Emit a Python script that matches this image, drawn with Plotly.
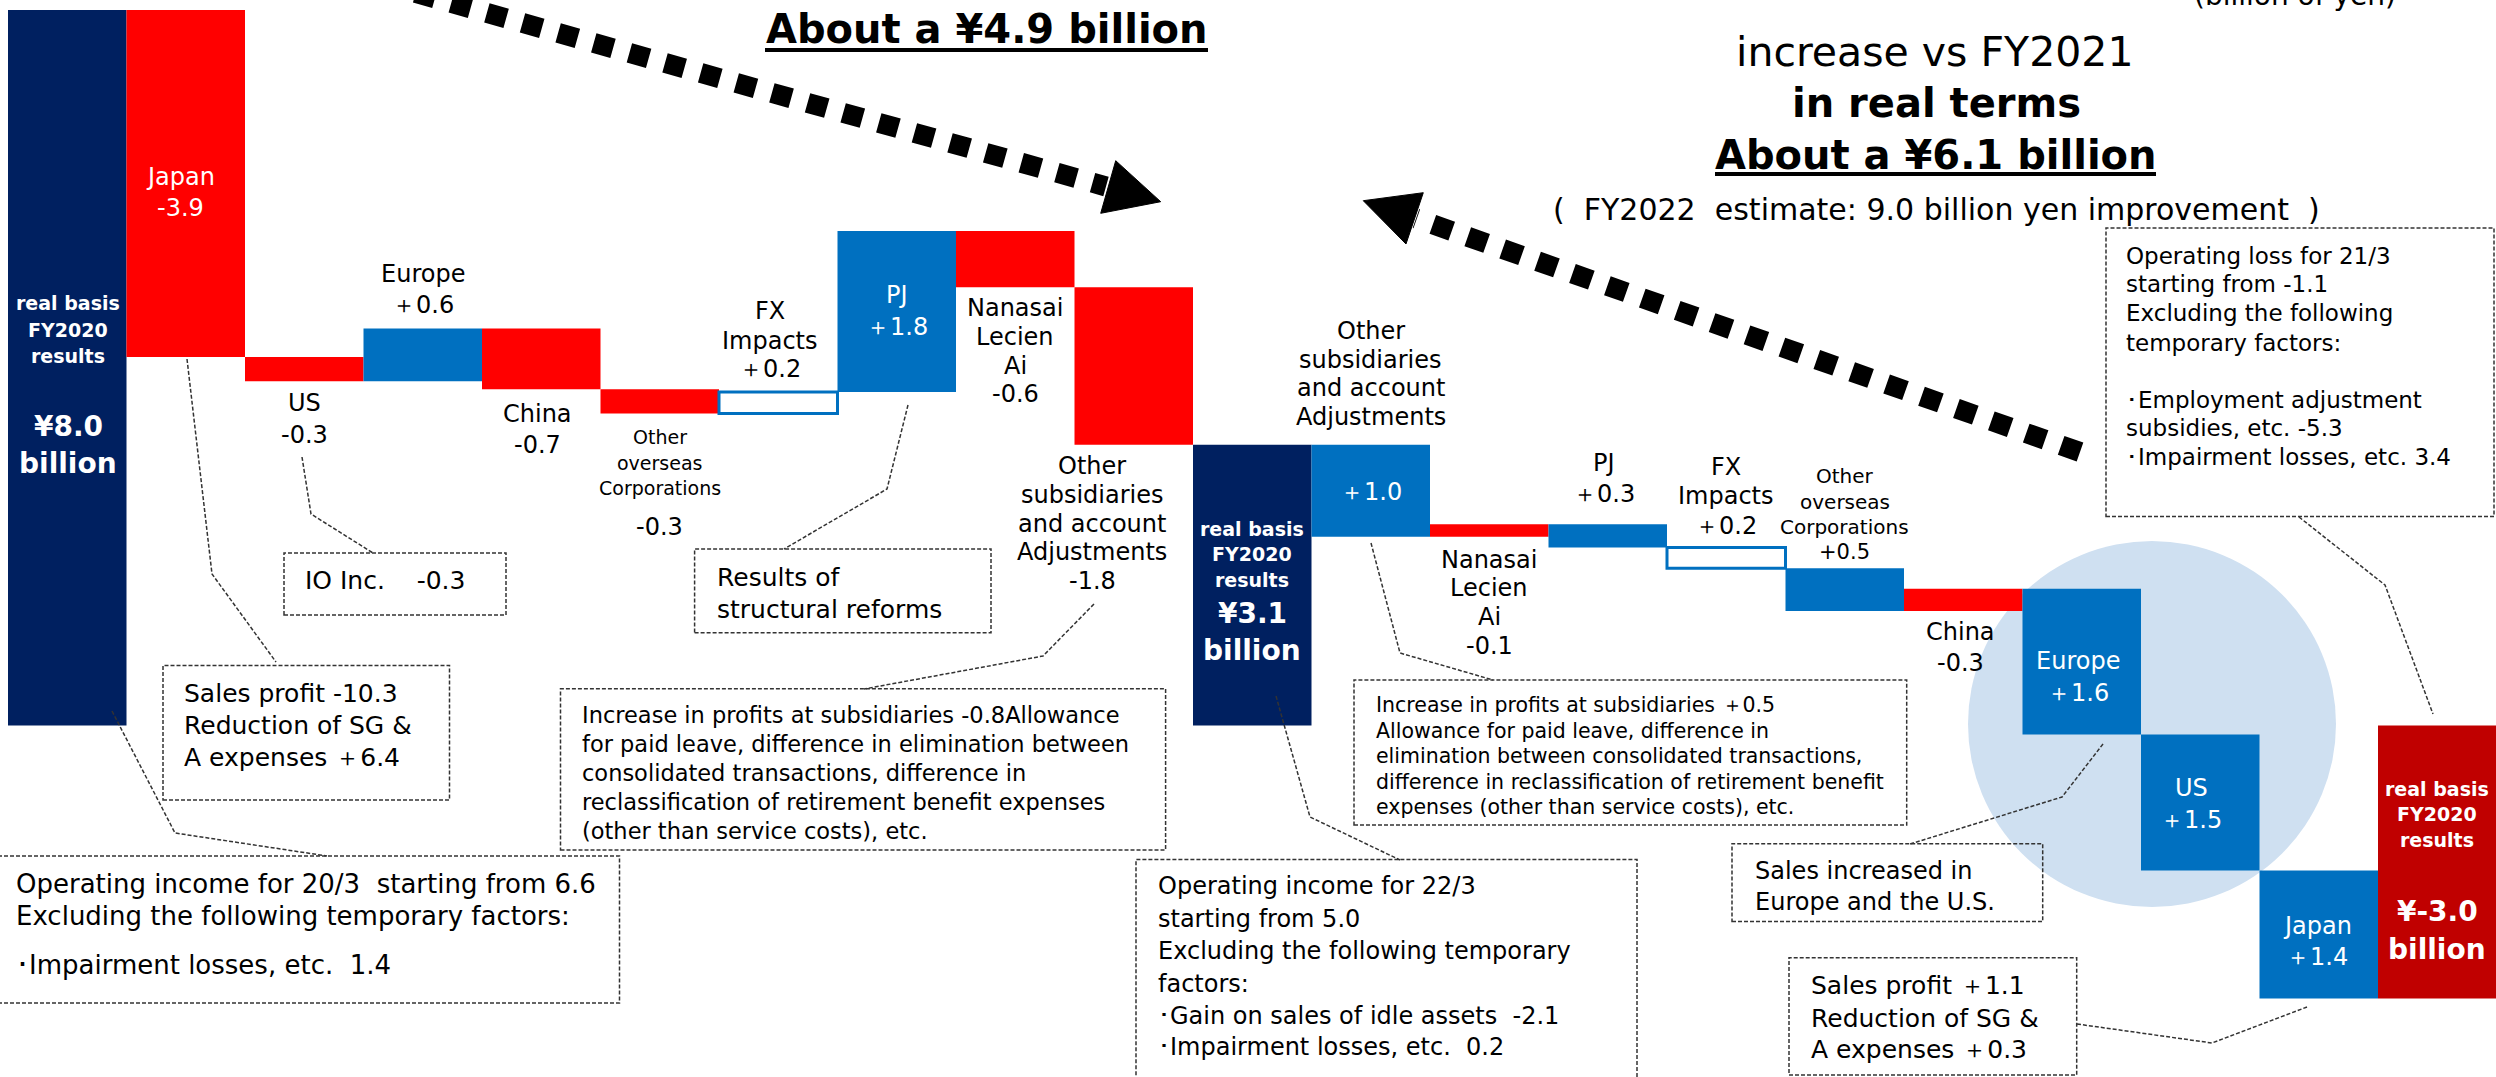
import plotly.graph_objects as go

W, H = 2496, 1077

# ---------------- data ----------------
start_label = "real basis<br>FY2020<br>results"
start_value = 8.0
left_categories = ["Japan", "US", "Europe", "China", "Other<br>overseas<br>Corporations",
                   "FX<br>Impacts", "PJ", "Nanasai<br>Lecien<br>Ai",
                   "Other<br>subsidiaries<br>and account<br>Adjustments"]
left_changes = [-3.88, -0.27, 0.59, -0.68, -0.27, 0.24, 1.80, -0.63, -1.76]
left_change_labels = ["-3.9", "-0.3", "＋0.6", "-0.7", "-0.3", "＋0.2", "＋1.8", "-0.6", "-1.8"]

right_categories = ["Other<br>subsidiaries<br>and account<br>Adjustments", "Nanasai<br>Lecien<br>Ai",
                    "PJ", "FX<br>Impacts", "Other<br>overseas<br>Corporations", "China",
                    "Europe", "US", "Japan"]
right_improvements = [1.03, -0.14, 0.26, 0.23, 0.48, -0.25, 1.63, 1.52, 1.43]
right_change_labels = ["＋1.0", "-0.1", "＋0.3", "＋0.2", "+0.5", "-0.3", "＋1.6", "＋1.5", "＋1.4"]

total_labels = ["¥8.0<br>billion", "¥3.1<br>billion", "¥-3.0<br>billion"]

# ---------------- colours ----------------
NAVY = "#002060"
BLUE = "#0070C0"
RED = "#FF0000"
DARKRED = "#C00000"
CIRCLE = "#CFE0F1"
BOXLINE = "#333333"
FONT = "DejaVu Sans"

# ---------------- build waterfall geometry ----------------
xs, bases, heights, fills, lcols, lwids = [], [], [], [], [], []


def add_bar(base, h, fill, lcol=None, lw=0):
    xs.append(len(xs))
    bases.append(base)
    heights.append(h)
    fills.append(fill)
    lcols.append(lcol or fill)
    lwids.append(lw)


add_bar(0, start_value, NAVY)
level = start_value
for cat, c in zip(left_categories, left_changes):
    if cat.startswith("FX"):
        add_bar(level, c, "#FFFFFF", BLUE, 3)
    else:
        add_bar(level, c, BLUE if c > 0 else RED)
    level += c
mid_value = level
add_bar(0, mid_value, NAVY)
for cat, c in zip(right_categories, right_improvements):
    if cat.startswith("FX"):
        add_bar(level, -c, "#FFFFFF", BLUE, 3)
    else:
        add_bar(level, -c, BLUE if c > 0 else RED)
    level -= c
end_value = level
add_bar(0, end_value, DARKRED)

fig = go.Figure()
fig.add_trace(go.Bar(
    x=xs, y=heights, base=bases, width=1,
    marker=dict(color=fills, line=dict(color=lcols, width=lwids)),
    hoverinfo="skip", showlegend=False,
))


# pixel helpers (paper coords)
def px(x):
    return x / W


def py(y):
    return 1 - y / H


# axis ranges so that bar i spans pixels 8+118.5*i .. 8+118.5*(i+1), value 0 at y=725.6
BW = 118.5
X0 = 8.0
ZERO_Y = 725.6
SCALE = 89.45
fig.update_xaxes(range=[-X0 / BW - 0.5, (W - X0) / BW - 0.5], visible=False)
fig.update_yaxes(range=[(ZERO_Y - H) / SCALE, ZERO_Y / SCALE], visible=False)

annotations = []


def txt(x, y, text, size, color="black", bold=False, xanchor="center", xref="paper"):
    if bold:
        text = "<b>" + text + "</b>"
    annotations.append(dict(
        x=x if xref == "x" else px(x), y=py(y), xref=xref, yref="paper",
        text=text, showarrow=False, xanchor=xanchor, yanchor="middle",
        font=dict(family=FONT, size=size, color=color),
    ))


# ---------------- bar labels ----------------
all_categories = [start_label] + left_categories + ["real basis<br>FY2020<br>results"] + right_categories
all_values = [total_labels[0]] + left_change_labels + [total_labels[1]] + right_change_labels

label_y = {
    0: [303, 330, 356, 426, 463],
    1: [177, 208], 2: [403, 435], 3: [274, 305], 4: [414, 445],
    5: [437, 463, 488, 527], 6: [311, 341, 369], 7: [295, 327],
    8: [308, 337, 366, 394], 9: [466, 495, 524, 552, 581],
    10: [529, 554, 580, 613, 650],
    11: [331, 360, 388, 417, 492], 12: [560, 588, 617, 646], 13: [463, 494],
    14: [467, 496, 526], 15: [476, 502, 527, 552], 16: [632, 663],
    17: [661, 693], 18: [788, 820], 19: [926, 957],
    20: [789, 814, 840, 911, 949],
}
# label centres (pixels) where they are not centred on their bar
label_x_px = {0: 68, 1: 180, 4: 537, 6: 770, 9: 1092, 13: 1604, 16: 1960,
              17: 2078, 18: 2191, 19: 2317}
white_bars = {1, 7, 17, 18, 19}
total_bars = {0: 0, 10: 1, 20: 2}


def lx(i):
    if i in label_x_px:
        return (label_x_px[i] - X0) / BW - 0.5
    return i


for i in range(21):
    ys = label_y[i]
    xi = lx(i)
    if i in total_bars:
        cat_lines = "real basis<br>FY2020<br>results".split("<br>")
        val_lines = total_labels[total_bars[i]].split("<br>")
        for ln, y in zip(cat_lines, ys[:3]):
            txt(xi, y, ln, 19, "white", True, xref="x")
        for ln, y in zip(val_lines, ys[3:]):
            txt(xi, y, ln, 28, "white", True, xref="x")
        continue
    cat_lines = all_categories[i].split("<br>")
    val = all_values[i]
    col = "white" if i in white_bars else "black"
    csize = 24
    vsize = 24
    if i == 5:
        csize, vsize = 19, 24
    if i == 15:
        csize, vsize = 20, 21
    for ln, y in zip(cat_lines, ys[:len(cat_lines)]):
        txt(xi, y, ln, csize, col, xref="x")
    vcol = "white" if (i in white_bars or i == 11) else "black"
    txt(xi, ys[len(cat_lines)], val, vsize, vcol, xref="x")

# ---------------- titles ----------------
txt(987, 29, "About a ¥4.9 billion", 40, bold=True)
txt(1934, 52, "increase vs FY2021", 41)
txt(1936, 103, "in real terms", 40, bold=True)
txt(1936, 155, "About a ¥6.1 billion", 40, bold=True)
txt(1936, 210, "(  FY2022  estimate: 9.0 billion yen improvement  )", 30)
txt(2295, -4, "(billion of yen)", 28)

# ---------------- callout boxes ----------------
BUL = "･"
boxes = [
    ((284, 553, 506, 615), 303, [(580, "IO Inc.    -0.3")], 25),
    ((163, 665.5, 449.5, 800), 182, [(693, "Sales profit -10.3"), (725, "Reduction of SG &"),
                                     (757, "A expenses ＋6.4")], 25),
    ((-2, 856, 619.5, 1003), 14, [(884, "Operating income for 20/3  starting from 6.6"),
                                  (916, "Excluding the following temporary factors:"),
                                  (965, BUL + "Impairment losses, etc.  1.4")], 26),
    ((694.6, 549, 991, 632.7), 714.5, [(577, "Results of"), (609, "structural reforms")], 25),
    ((560.5, 688.8, 1165.6, 850), 579.6, [
        (715, "Increase in profits at subsidiaries -0.8Allowance"),
        (744, "for paid leave, difference in elimination between"),
        (773, "consolidated transactions, difference in"),
        (802, "reclassification of retirement benefit expenses"),
        (831, "(other than service costs), etc.")], 22.5),
    ((1354, 680, 1906.7, 825), 1374, [
        (705, "Increase in profits at subsidiaries ＋0.5"),
        (731, "Allowance for paid leave, difference in"),
        (756, "elimination between consolidated transactions,"),
        (782, "difference in reclassification of retirement benefit"),
        (807, "expenses (other than service costs), etc.")], 20.5),
    ((1136, 859.6, 1637, 1080), 1156, [
        (886, "Operating income for 22/3"), (919, "starting from 5.0"),
        (951.5, "Excluding the following temporary"), (983.5, "factors:"),
        (1016, BUL + "Gain on sales of idle assets  -2.1"),
        (1047, BUL + "Impairment losses, etc.  0.2")], 24),
    ((2106, 228, 2494, 516.5), 2124, [
        (255.5, "Operating loss for 21/3"), (284.4, "starting from -1.1"),
        (313.4, "Excluding the following"), (342.6, "temporary factors:"),
        (399.5, BUL + "Employment adjustment"), (428, "subsidies, etc. -5.3"),
        (457, BUL + "Impairment losses, etc. 3.4")], 23),
    ((1732, 843.7, 2042.7, 921.5), 1752.7, [(871, "Sales increased in"),
                                            (902, "Europe and the U.S.")], 24),
    ((1789, 957.7, 2076.7, 1075), 1809, [(985, "Sales profit ＋1.1"), (1018, "Reduction of SG &"),
                                         (1049, "A expenses ＋0.3")], 25),
]

shapes = []
# light blue circle behind bars
shapes.append(dict(type="circle", xref="paper", yref="paper",
                   x0=px(2152 - 184), x1=px(2152 + 184), y0=py(724 + 183), y1=py(724 - 183),
                   fillcolor=CIRCLE, line=dict(width=0), layer="below"))

for (x0, y0, x1, y1), tx, lines, fs in boxes:
    shapes.append(dict(type="rect", xref="paper", yref="paper",
                       x0=px(x0), x1=px(x1), y0=py(y1), y1=py(y0),
                       line=dict(color=BOXLINE, width=1.5, dash="4px,2px"),
                       fillcolor="rgba(0,0,0,0)", layer="above"))
    for y, t in lines:
        txt(tx, y, t, fs, xanchor="left")

connectors = [
    [(302, 457), (311, 514), (373, 553)],
    [(187, 359), (212, 574), (276, 662)],
    [(112, 711), (175, 833), (327, 856)],
    [(908, 405), (887, 489), (784, 549)],
    [(1094, 604), (1043, 656), (864, 689)],
    [(1371, 543), (1400, 653), (1493, 680)],
    [(1276, 696), (1310, 817), (1400, 860)],
    [(2299, 517), (2385, 585), (2433, 714)],
    [(2103, 744), (2062, 797), (1910, 844)],
    [(2077, 1024), (2212, 1043), (2307, 1007)],
]
for pts in connectors:
    path = "M " + " L ".join(f"{px(x):.5f},{py(y):.5f}" for x, y in pts)
    shapes.append(dict(type="path", xref="paper", yref="paper", path=path,
                       line=dict(color=BOXLINE, width=1.5, dash="4px,2px"), layer="above"))

# underlines of the bold headline figures
shapes.append(dict(type="line", xref="paper", yref="paper", x0=px(765), x1=px(1208),
                   y0=py(50), y1=py(50), line=dict(color="black", width=4)))
shapes.append(dict(type="line", xref="paper", yref="paper", x0=px(1715), x1=px(2156),
                   y0=py(174), y1=py(174), line=dict(color="black", width=4)))

# dashed thick arrows
arrows = [
    ((380, -17), (1106, 186.5), (1160.7, 201.7), (1115.7, 160.7), (1100.7, 213.3)),
    ((2080, 452), (1416, 218.5), (1363.3, 200.7), (1423.3, 192.7), (1406, 244)),
]
for (sx, sy), (ex, ey), tip, c1, c2 in arrows:
    shapes.append(dict(type="line", xref="paper", yref="paper",
                       x0=px(sx), y0=py(sy), x1=px(ex), y1=py(ey),
                       line=dict(color="black", width=20, dash="20px,17px")))
    path = "M {:.5f},{:.5f} L {:.5f},{:.5f} L {:.5f},{:.5f} Z".format(
        px(tip[0]), py(tip[1]), px(c1[0]), py(c1[1]), px(c2[0]), py(c2[1]))
    shapes.append(dict(type="path", xref="paper", yref="paper", path=path,
                       fillcolor="black", line=dict(color="black", width=1)))

fig.update_layout(
    width=W, height=H,
    margin=dict(l=0, r=0, t=0, b=0),
    paper_bgcolor="white", plot_bgcolor="white",
    bargap=0, showlegend=False,
    shapes=shapes, annotations=annotations,
    font=dict(family=FONT),
)

fig.write_html("out.html", config={"displayModeBar": False, "staticPlot": True},
               post_script="document.body.style.margin='0';document.body.style.overflow='hidden';")
